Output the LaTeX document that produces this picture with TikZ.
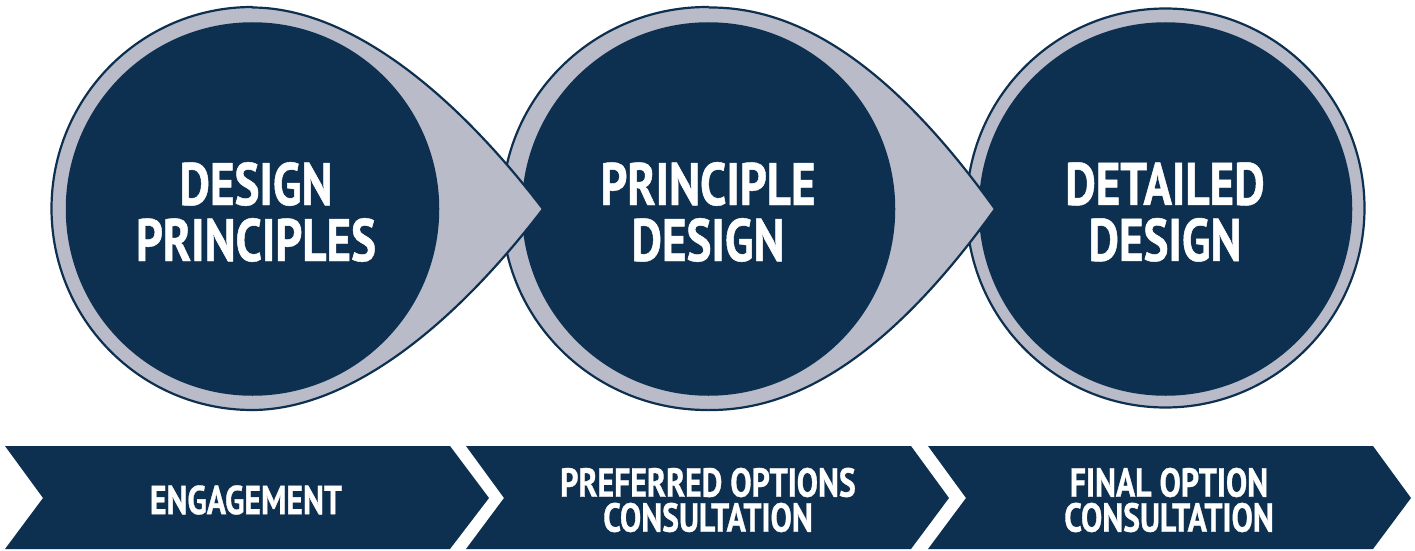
\documentclass[tikz,border=0pt]{standalone}
\usepackage{fontspec}
\usetikzlibrary{shapes.geometric}
\setmainfont{PT Sans}[BoldFont={PT Sans Bold},BoldFeatures={FakeBold=0.8},FakeStretch=0.785]
\definecolor{navy}{HTML}{0E3050}
\definecolor{ring}{HTML}{B9BBC9}
\tikzset{
  x=1pt,y=-1pt,
  outerc/.style={ellipse,draw=navy,line width=2.2pt,fill=ring,inner sep=0pt},
  innerc/.style={circle,fill=navy,minimum size=373.5pt,inner sep=0pt},
  tearfill/.style={fill=ring},
  tearline/.style={draw=navy,line width=2.2pt,line join=miter},
  band/.style={fill=navy},
  bigtext/.style={text=white,font=\bfseries\fontsize{60}{56}\selectfont,align=center,inner sep=0pt},
  smalltext/.style={text=white,font=\bfseries\fontsize{40.5}{35}\selectfont,align=center,inner sep=0pt}
}
\begin{document}
\begin{tikzpicture}
\useasboundingbox (0,0) rectangle (1415,551);
% circle 3
\node[outerc,minimum width=398pt,minimum height=399pt] (o3) at (1165.5,208) {};
\node[innerc] (i3) at (1165.5,209) {};
% circle 2 with teardrop
\begin{scope}
\clip (0,0) rectangle (709,551);
\node[outerc,minimum width=410pt,minimum height=403pt] (o2) at (707,208.5) {};
\end{scope}
\coordinate (tip2) at (995,209);
\fill[tearfill] (708.5,7.5) .. controls (800,6.5) and (893,67) .. (tip2)
   .. controls (893,351) and (800,411) .. (708.5,410) -- cycle;
\draw[tearline] (708.5,7.5) .. controls (800,6.5) and (893,67) .. (tip2)
   .. controls (893,351) and (800,411) .. (708.5,410);
\node[innerc] (i2) at (708.5,209) {};
% circle 1 with teardrop
\begin{scope}
\clip (0,0) rectangle (253,551);
\node[outerc,minimum width=401pt,minimum height=403pt] (o1) at (252,208.5) {};
\end{scope}
\coordinate (tip1) at (543,209);
\fill[tearfill] (252,7.5) .. controls (335,7.5) and (437,71) .. (tip1)
   .. controls (437,347) and (335,410) .. (252,410) -- cycle;
\draw[tearline] (252,7.5) .. controls (335,7.5) and (437,71) .. (tip1)
   .. controls (437,347) and (335,410) .. (252,410);
\node[innerc] (i1) at (252.5,209) {};
\node[bigtext] (t1) at (256,212) {DESIGN\\PRINCIPLES};
\node[bigtext] (t2) at (708,212) {PRINCIPLE\\DESIGN};
\node[bigtext] (t3) at (1165,212) {DETAILED\\DESIGN};
% chevrons
\fill[band] (5,446) -- (450,446) -- (489,498) -- (450,549) -- (5,549) -- (43,498) -- cycle;
\fill[band] (466,446) -- (911,446) -- (949,498) -- (911,549) -- (466,549) -- (504,498) -- cycle;
\fill[band] (928,446) -- (1373,446) -- (1411,498) -- (1373,549) -- (928,549) -- (966,498) -- cycle;
\node[smalltext] (e1) at (246,500) {ENGAGEMENT};
\node[smalltext] (e2) at (708,500) {PREFERRED OPTIONS\\CONSULTATION};
\node[smalltext] (e3) at (1169,500) {FINAL OPTION\\CONSULTATION};
\end{tikzpicture}
\end{document}
